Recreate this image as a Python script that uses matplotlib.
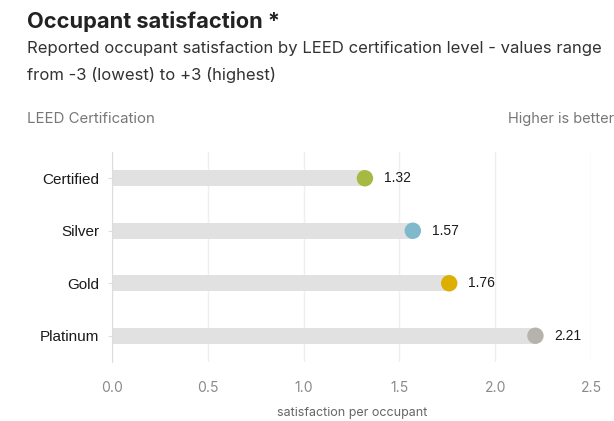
import matplotlib
matplotlib.use("Agg")
import matplotlib.pyplot as plt

# data
levels = ["Certified", "Silver", "Gold", "Platinum"]
scores = [1.32, 1.57, 1.76, 2.21]
dot_colors = ["#a6b943", "#80b9cc", "#dbb000", "#b6b3ac"]
xticks = [0.0, 0.5, 1.0, 1.5, 2.0, 2.5]

plt.rcParams["font.family"] = ["Inter", "DejaVu Sans"]
label_font = ["Liberation Sans", "DejaVu Sans"]

fig = plt.figure(figsize=(6.14, 4.21), dpi=100)
ax = fig.add_axes([112 / 614, 1 - 362 / 421, (591 - 112) / 614, (362 - 152) / 421])

ypos = list(range(len(levels)))
ax.barh(ypos, scores, height=0.31, color="#e1e1e1", zorder=2)
ax.scatter(scores, ypos, s=140, c=dot_colors, zorder=3, linewidths=0)
for y, v in zip(ypos, scores):
    ax.text(v + 0.1, y, f"{v:.2f}", va="center", ha="left", fontsize=10,
            color="#1a1a1a", family=label_font)

ax.set_xlim(0, 2.5)
ax.set_ylim(len(levels) - 0.5, -0.5)
ax.set_yticks(ypos)
ax.set_yticklabels(levels, family=label_font, fontsize=11, color="#1a1a1a")
ax.set_xticks(xticks)
ax.set_xticklabels([f"{t:.1f}" for t in xticks], fontsize=10, color="#8a8a8a")
ax.tick_params(axis="y", length=3, color="#dddddd", pad=6)
ax.tick_params(axis="x", length=0, pad=14)
ax.grid(axis="x", color="#efefef", lw=1, zorder=0)
for s in ["top", "right", "bottom"]:
    ax.spines[s].set_visible(False)
ax.spines["left"].set_color("#dddddd")

fig.text(352 / 614, 1 - 413 / 421, "satisfaction per occupant", fontsize=9,
         color="#666666", ha="center", va="center")
fig.text(27 / 614, 1 - 21 / 421, "Occupant satisfaction *", fontsize=15.7, weight="bold",
         color="#222222", va="center")
fig.text(27 / 614, 1 - 49 / 421,
         "Reported occupant satisfaction by LEED certification level - values range",
         fontsize=12, color="#333333", va="center")
fig.text(27 / 614, 1 - 75 / 421, "from -3 (lowest) to +3 (highest)",
         fontsize=12, color="#333333", va="center")
fig.text(27 / 614, 1 - 119 / 421, "LEED Certification", fontsize=10.8,
         color="#777777", va="center")
fig.text(1.0, 1 - 119 / 421, "Higher is better", fontsize=10.5,
         color="#777777", va="center", ha="right")

fig.savefig("out.png", dpi=100)
